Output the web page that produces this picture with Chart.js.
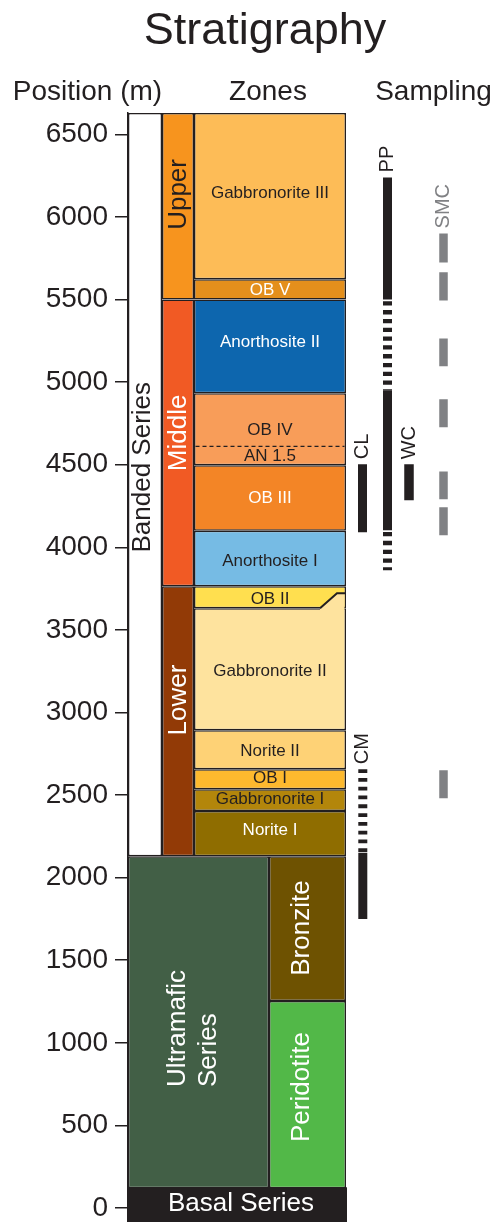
<!DOCTYPE html>
<html>
<head>
<meta charset="utf-8">
<title>Stratigraphy</title>
<style>
  html, body { margin: 0; padding: 0; background: #ffffff; }
  canvas { display: block; }
</style>
<script src="https://cdn.jsdelivr.net/npm/chart.js@4.4.1/dist/chart.umd.min.js"></script>
</head>
<body>
<canvas id="strat" width="495" height="1222"></canvas>
<script>
// ---- Stratigraphic positions, metres above the base of the complex ----
const positionTicks = [0, 500, 1000, 1500, 2000, 2500, 3000, 3500, 4000, 4500, 5000, 5500, 6000, 6500];
const columnTop = 6630;
const columnFloor = -85;

// Series
const seriesNames = ['Basal Series', 'Ultramafic Series', 'Banded Series'];
const seriesBase  = [columnFloor, 120, 2130];
const seriesTop   = [120, 2130, columnTop];

// Subdivisions of the Ultramafic Series
const ultramaficNames = ['Peridotite', 'Bronzite'];
const ultramaficBase  = [120, 1253];
const ultramaficTop   = [1253, 2130];

// Zones of the Banded Series
const zoneNames = ['Lower', 'Middle', 'Upper'];
const zoneBase  = [2130, 3765, 5500];
const zoneTop   = [3765, 5500, columnTop];

// Rock units of the Banded Series
const rockNames = ['Norite I', 'Gabbronorite I', 'OB I', 'Norite II', 'Gabbronorite II', 'OB II',
                   'Anorthosite I', 'OB III', 'OB IV', 'Anorthosite II', 'OB V', 'Gabbronorite III'];
const rockBase  = [2130, 2403, 2536, 2657, 2893, 3631, 3765, 4100, 4497, 4933, 5500, 5623];
const rockTop   = [2403, 2536, 2657, 2893, 3631, 3765, 4100, 4497, 4933, 5500, 5623, columnTop];
const rockLabelAt = [2288, 2475, 2600, 2766, 3247, 3683, 3913, 4297, 4709, 5243, 5556, 6143];

// AN 1.5 sits inside OB IV, separated by a gradational (dashed) contact
const an15Name = 'AN 1.5';
const an15Contact = 4612;
const an15LabelAt = 4554;

// OB II / Gabbronorite II contact steps up toward the eastern edge
const obIIContactLow = 3631;
const obIIContactHigh = 3722;

// Sampling intervals, listed [top, bottom]
const samplingNames = ['PP', 'CL', 'WC', 'CM', 'SMC'];
const ppContinuous = [[6240, 5500], [4951, 4103]];
const ppSparse     = [[5500, 4951], [4103, 3861]];
const clContinuous = [[4503, 4091]];
const wcContinuous = [[4503, 4285]];
const cmContinuous = [[2150, 1749]];
const cmSparse     = [[2657, 2150]];
const smcIntervals = [[5901, 5725], [5665, 5495], [5265, 5096], [4896, 4727],
                      [4460, 4291], [4243, 4073], [2651, 2481]];

// ---- Styling ----
const INK = '#231f20';
const GREY = '#808184';
const FONT = '"Liberation Sans", Arial, Helvetica, sans-serif';

const seriesFill     = ['#231f20', '#425f46', '#ffffff'];
const seriesInk      = ['#ffffff', '#ffffff', INK];
const ultramaficFill = ['#52b848', '#6e5201'];
const zoneFill       = ['#923a06', '#f15a24', '#f7941e'];
const zoneInk        = ['#ffffff', '#ffffff', INK];
const rockFill = ['#8f6d00', '#b3860b', '#fdb92e', '#fed276', '#fee39e', '#ffdf4f',
                  '#76bbe4', '#f38526', '#f89d59', '#0d66ae', '#e48f1c', '#fdbc57'];
const rockInk  = ['#ffffff', INK, INK, INK, INK, INK,
                  INK, '#ffffff', INK, '#ffffff', '#ffffff', INK];

// Horizontal layout on the x scale (1 unit = 1 px from the axis line)
const col = {
  banded:     { center: 17,    width: 34 },
  zone:       { center: 50,    width: 32 },
  rock:       { center: 142,   width: 152 },
  ultramafic: { center: 70.5,  width: 141 },
  ultraSub:   { center: 179.5, width: 77 },
  basal:      { center: 109,   width: 218 }
};
const trackX = { PP: 259.5, CL: 234.5, WC: 281, CM: 234.8, SMC: 315.5 };
const obIIStepX = [192, 209];

function columnBars(label, c, base, top, fills, extra) {
  return Object.assign({
    type: 'bar', label, order: 10,
    data: base.map((b, i) => ({ x: c.center, y: [b, top[i]] })),
    backgroundColor: fills, borderColor: INK, borderWidth: 1.5,
    borderSkipped: false, barThickness: c.width, grouped: false, inflateAmount: 0
  }, extra || {});
}

function track(label, xPos, intervals, color, width, dash, dashOffset) {
  const pts = [];
  intervals.forEach(([top, bottom]) => {
    pts.push({ x: xPos, y: top }, { x: xPos, y: bottom }, { x: xPos, y: null });
  });
  return {
    type: 'line', label, order: 2, data: pts,
    borderColor: color, borderWidth: width, borderDash: dash || [], borderDashOffset: dashOffset || 0,
    borderCapStyle: 'butt', pointRadius: 0, fill: false, spanGaps: false, tension: 0
  };
}

const rockRight = col.rock.center + col.rock.width / 2;
const rockLeft = col.rock.center - col.rock.width / 2;

const datasets = [
  // stepped OB II contact: Gabbronorite II wedge and the contact line
  {
    type: 'line', label: 'OB II step', order: 1,
    data: [
      { x: obIIStepX[0], y: obIIContactLow },
      { x: obIIStepX[1], y: obIIContactHigh },
      { x: rockRight, y: obIIContactHigh }
    ],
    borderColor: INK, borderWidth: 2, borderJoinStyle: 'miter', pointRadius: 0, fill: false, tension: 0
  },
  {
    type: 'line', label: 'Gabbronorite II wedge', order: 3,
    data: [
      { x: obIIStepX[0], y: obIIContactLow - 11 },
      { x: obIIStepX[0], y: obIIContactLow },
      { x: obIIStepX[1], y: obIIContactHigh },
      { x: rockRight - 1.5, y: obIIContactHigh },
      { x: rockRight - 1.5, y: obIIContactLow - 11 }
    ],
    borderColor: 'rgba(0,0,0,0)', borderWidth: 0, pointRadius: 0,
    fill: 'shape', backgroundColor: rockFill[4], tension: 0
  },
  // dashed OB IV / AN 1.5 contact
  {
    type: 'line', label: 'AN 1.5 contact', order: 2,
    data: [{ x: rockLeft + 1.5, y: an15Contact }, { x: rockRight - 1.5, y: an15Contact }],
    borderColor: INK, borderWidth: 1.3, borderDash: [4, 3], pointRadius: 0, fill: false
  },
  // sampling
  track('PP', trackX.PP, ppContinuous, INK, 9),
  track('PP sparse', trackX.PP, ppSparse, INK, 9, [4.3, 4.5], 7.1),
  track('CL', trackX.CL, clContinuous, INK, 9),
  track('WC', trackX.WC, wcContinuous, INK, 9.5),
  track('CM', trackX.CM, cmContinuous, INK, 9),
  track('CM sparse', trackX.CM, cmSparse, INK, 9, [3.8, 5], 0),
  track('SMC', trackX.SMC, smcIntervals, GREY, 8.5),
  // columns
  columnBars('Rocks', col.rock, rockBase, rockTop, rockFill),
  columnBars('Zones', col.zone, zoneBase, zoneTop, zoneFill),
  columnBars('Banded Series', col.banded, [seriesBase[2]], [seriesTop[2]], [seriesFill[2]]),
  columnBars('Ultramafic Series', col.ultramafic, [seriesBase[1]], [seriesTop[1]], [seriesFill[1]]),
  columnBars('Ultramafic subdivisions', col.ultraSub, ultramaficBase, ultramaficTop, ultramaficFill),
  columnBars('Basal Series', col.basal, [seriesBase[0]], [seriesTop[0]], [seriesFill[0]],
             { borderWidth: 0, inflateAmount: 1 })
];

// ---- Text placed on the column ----
const unitLabels = [];
rockNames.forEach((name, i) => unitLabels.push({ text: [name], x: col.rock.center, at: rockLabelAt[i], size: 17, color: rockInk[i] }));
unitLabels.push({ text: [an15Name], x: col.rock.center, at: an15LabelAt, size: 17, color: INK });
const zoneLabelAt = [3075, 4693, 6137];
zoneNames.forEach((name, i) => unitLabels.push({ text: [name], x: col.zone.center + 0.5, at: zoneLabelAt[i], size: 26, color: zoneInk[i], rotate: true }));
unitLabels.push({ text: [seriesNames[2]], x: 15, at: 4485, size: 26, color: seriesInk[2], rotate: true });
unitLabels.push({ text: ['Ultramafic', 'Series'], x: 65.5, at: 732, size: 26, color: seriesInk[1], rotate: true, align: 'left', lineGap: 31 });
unitLabels.push({ text: [seriesNames[0]], x: 113, at: 24, size: 26, color: seriesInk[0] });
const ultramaficLabelAt = [732, 1695];
ultramaficNames.forEach((name, i) => unitLabels.push({ text: [name], x: 174, at: ultramaficLabelAt[i], size: 26, color: '#ffffff', rotate: true }));

const samplingTops = [ppContinuous[0][0], clContinuous[0][0], wcContinuous[0][0], cmSparse[0][0], smcIntervals[0][0]];
const samplingInk = [INK, INK, INK, INK, GREY];

const headers = [
  { text: 'Stratigraphy', x: 265, y: 44, size: 45 },
  { text: 'Position (m)', x: 87.5, y: 100, size: 28 },
  { text: 'Zones', x: 268, y: 100, size: 28 },
  { text: 'Sampling', x: 433.5, y: 100, size: 28 }
];

const textPlugin = {
  id: 'stratText',
  beforeDraw(chart) {
    const { ctx } = chart;
    ctx.save();
    ctx.fillStyle = '#ffffff';
    ctx.fillRect(0, 0, chart.width, chart.height);
    ctx.restore();
  },
  afterDatasetsDraw(chart) {
    const { ctx, scales: { x, y } } = chart;
    ctx.save();
    ctx.textBaseline = 'middle';
    unitLabels.forEach(l => {
      ctx.font = `${l.size}px ${FONT}`;
      ctx.fillStyle = l.color;
      ctx.textAlign = l.align || 'center';
      const px = x.getPixelForValue(l.x);
      const py = y.getPixelForValue(l.at);
      const gap = l.lineGap || 0;
      const n = l.text.length;
      ctx.save();
      ctx.translate(px, py);
      if (l.rotate) ctx.rotate(-Math.PI / 2);
      l.text.forEach((t, k) => ctx.fillText(t, 0, (k - (n - 1) / 2) * gap));
      ctx.restore();
    });
    // sampling labels, set just above each record
    ctx.font = `20px ${FONT}`;
    ctx.textAlign = 'left';
    samplingNames.forEach((name, i) => {
      const px = x.getPixelForValue(trackX[name]);
      const py = y.getPixelForValue(samplingTops[i]) - 5;
      ctx.save();
      ctx.translate(px, py);
      ctx.rotate(-Math.PI / 2);
      ctx.fillStyle = samplingInk[i];
      ctx.fillText(name, 0, 0);
      ctx.restore();
    });
    ctx.restore();
  },
  afterDraw(chart) {
    const { ctx } = chart;
    ctx.save();
    ctx.fillStyle = INK;
    ctx.textAlign = 'center';
    ctx.textBaseline = 'alphabetic';
    headers.forEach(h => {
      ctx.font = `${h.size}px ${FONT}`;
      ctx.fillText(h.text, h.x, h.y);
    });
    ctx.restore();
  }
};

new Chart(document.getElementById('strat'), {
  type: 'bar',
  data: { datasets },
  plugins: [textPlugin],
  options: {
    responsive: false,
    devicePixelRatio: 1,
    animation: false,
    events: [],
    layout: { padding: { top: 113, left: 0, right: 0, bottom: 0 }, autoPadding: false },
    plugins: { legend: { display: false }, tooltip: { enabled: false }, title: { display: false } },
    scales: {
      x: { type: 'linear', display: false, min: 0, max: 367, offset: false },
      y: {
        type: 'linear', position: 'left', min: columnFloor, max: columnTop,
        afterBuildTicks(scale) { scale.ticks = positionTicks.map(v => ({ value: v })); },
        afterFit(scale) { scale.width = 128; scale.paddingTop = 0; scale.paddingBottom = 0; },
        ticks: {
          font: { family: FONT, size: 28 }, color: INK, padding: 7,
          callback: v => String(v)
        },
        grid: { drawOnChartArea: false, drawTicks: true, tickLength: 13, color: INK, lineWidth: 1.5 },
        border: { display: true, color: INK, width: 1.5 }
      }
    }
  }
});
</script>
</body>
</html>
